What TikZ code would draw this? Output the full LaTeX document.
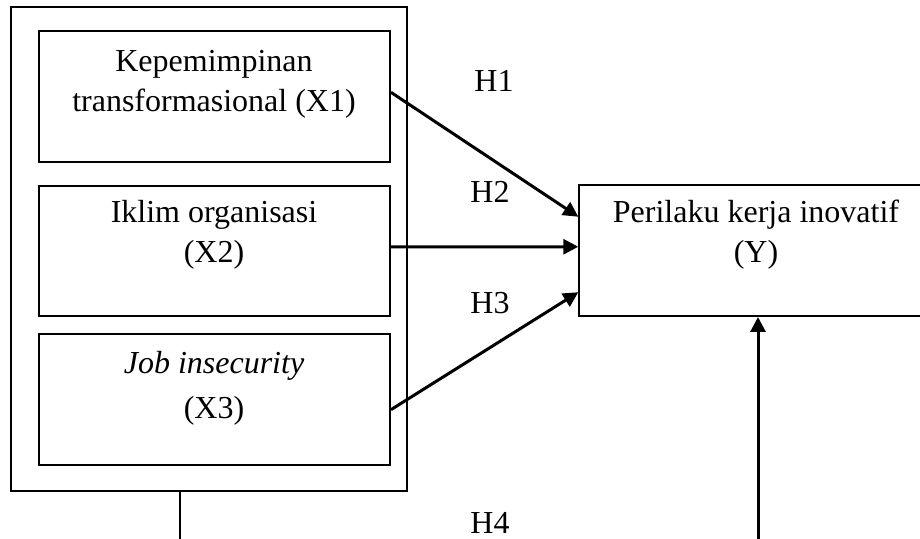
\documentclass[tikz,border=0pt]{standalone}
\usepackage{fontspec}
\setmainfont{Liberation Serif}
\usetikzlibrary{arrows.meta}
\begin{document}
\begin{tikzpicture}[x=0.5pt,y=-0.5pt,
  box/.style={draw,line width=1pt,rectangle,inner sep=0pt,minimum width=175.35pt,minimum height=65.3pt},
  txt/.style={anchor=base,inner sep=0pt,font=\fontsize{16}{19}\selectfont},
  conn/.style={line width=1.5pt,-{Triangle[length=7.5pt,width=7.5pt]}},
  plain/.style={line width=1pt}]
\useasboundingbox (0,0) rectangle (920,539);
\clip (0,0) rectangle (920,539);
% outer frame
\node[draw,line width=1pt,inner sep=0pt,minimum width=198.3pt,minimum height=241.7pt] (outer) at (209,249) {};
% inner boxes
\node[box,minimum height=65.65pt] (b1) at (214.65,96.35) {};
\node[box,minimum height=65pt] (b2) at (214.65,251) {};
\node[box,minimum height=65.35pt] (b3) at (214.65,399.65) {};
\node[box,minimum width=176.85pt,minimum height=65.25pt] (Y) at (756.15,250.75) {};
% texts
\node[txt] (t1a) at (214,71.7) {Kepemimpinan};
\node[txt] (t1b) at (214,111.7) {transformasional (X1)};
\node[txt] (t2a) at (214,223) {Iklim organisasi};
\node[txt] (t2b) at (214,263) {(X2)};
\node[txt] (t3a) at (214,373) {\itshape Job insecurity};
\node[txt] (t3b) at (214,418) {(X3)};
\node[txt] (tya) at (756,223) {Perilaku kerja inovatif};
\node[txt] (tyb) at (756,263) {(Y)};
% hypothesis labels
\node[txt] (h1) at (494,91.7) {H1};
\node[txt] (h2) at (490,202.7) {H2};
\node[txt] (h3) at (490,313.3) {H3};
\node[txt] (h4) at (490,533.3) {H4};
% connectors
\draw[conn] ([yshift=2pt]b1.east) -- ([yshift=17pt]Y.west);
\draw[conn] ([yshift=2pt]b2.east) -- ([yshift=2pt]Y.west);
\draw[conn] ([yshift=-5pt]b3.east) -- ([yshift=-20.75pt]Y.west);
\coordinate (moderbot) at (758,545);
\coordinate (outerbot) at (180,545);
\draw[conn] (moderbot) -- (moderbot |- Y.south);
\draw[plain] (outer.south -| outerbot) -- (outerbot);
\end{tikzpicture}
\end{document}
